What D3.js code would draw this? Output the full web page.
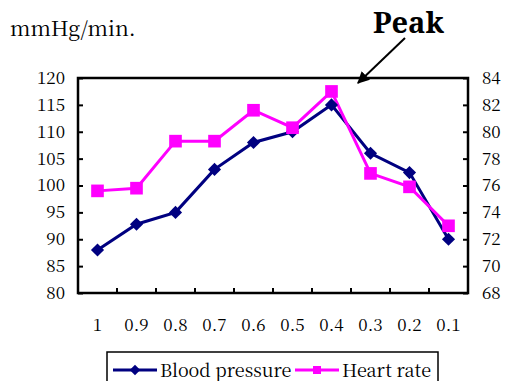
<!DOCTYPE html>
<html>
<head>
<meta charset="utf-8">
<script src="https://cdn.jsdelivr.net/npm/d3@7"></script>
<style>
  body { margin: 0; background: #fff; }
</style>
</head>
<body>
<svg id="chart" width="507" height="381"></svg>
<script>
// --- data ---
const categories = ["1", "0.9", "0.8", "0.7", "0.6", "0.5", "0.4", "0.3", "0.2", "0.1"];
const bloodPressure = [88, 92.8, 95, 103, 108, 110, 115, 106, 102.4, 90];
const heartRate = [75.6, 75.8, 79.3, 79.3, 81.6, 80.3, 83.0, 76.9, 75.9, 73.0];
const leftTicks = [80, 85, 90, 95, 100, 105, 110, 115, 120];
const rightTicks = [68, 70, 72, 74, 76, 78, 80, 82, 84];

const mincho = "'Noto Serif CJK JP', 'Liberation Serif', serif";

const svg = d3.select("#chart");
const plot = { left: 78, right: 468, top: 78, bottom: 293 };

const x = d3.scaleBand().domain(categories).range([plot.left, plot.right]);
const yL = d3.scaleLinear().domain([80, 120]).range([plot.bottom, plot.top]);
const yR = d3.scaleLinear().domain([68, 84]).range([plot.bottom, plot.top]);

// frame
svg.append("rect")
  .attr("x", plot.left).attr("y", plot.top)
  .attr("width", plot.right - plot.left).attr("height", plot.bottom - plot.top)
  .attr("fill", "none").attr("stroke", "#000").attr("stroke-width", 2.5);

// left axis (ticks pointing inward)
const gL = svg.append("g").attr("transform", `translate(${plot.left},0)`)
  .call(d3.axisRight(yL).tickValues(leftTicks).tickSize(5));
gL.select(".domain").remove();
gL.selectAll("line").attr("stroke-width", 2);
gL.selectAll("text").attr("text-anchor", "end").attr("x", -13)
  .style("font-family", mincho).style("font-size", "17px").attr("fill", "#000");

// right axis
const gR = svg.append("g").attr("transform", `translate(${plot.right},0)`)
  .call(d3.axisLeft(yR).tickValues(rightTicks).tickSize(5));
gR.select(".domain").remove();
gR.selectAll("line").attr("stroke-width", 2);
gR.selectAll("text").attr("text-anchor", "start").attr("x", 14)
  .style("font-family", mincho).style("font-size", "17px").attr("fill", "#000");

// bottom ticks at category boundaries
svg.append("g").selectAll("line")
  .data(categories.slice(1))
  .enter().append("line")
    .attr("x1", d => x(d)).attr("x2", d => x(d))
    .attr("y1", plot.bottom).attr("y2", plot.bottom - 5)
    .attr("stroke", "#000").attr("stroke-width", 2);

svg.append("g").selectAll("text")
  .data(categories)
  .enter().append("text")
    .attr("x", d => x(d) + x.bandwidth() / 2)
    .attr("y", 331)
    .attr("text-anchor", "middle")
    .style("font-family", mincho)
    .style("font-size", "17px")
    .text(d => d);

// lines
const lineBP = d3.line().x((d, i) => x(categories[i]) + x.bandwidth() / 2).y(d => yL(d));
const lineHR = d3.line().x((d, i) => x(categories[i]) + x.bandwidth() / 2).y(d => yR(d));

svg.append("path").datum(bloodPressure)
  .attr("d", lineBP).attr("fill", "none").attr("stroke", "#000080").attr("stroke-width", 3);
svg.append("path").datum(heartRate)
  .attr("d", lineHR).attr("fill", "none").attr("stroke", "#ff00ff").attr("stroke-width", 3);

const diamond = d3.symbol().type(d3.symbolDiamond2).size(110);
const square = d3.symbol().type(d3.symbolSquare).size(160);

svg.append("g").selectAll("path")
  .data(bloodPressure)
  .enter().append("path")
    .attr("transform", (d, i) => `translate(${x(categories[i]) + x.bandwidth() / 2},${yL(d)})`)
    .attr("d", diamond).attr("fill", "#000080");

svg.append("g").selectAll("path")
  .data(heartRate)
  .enter().append("path")
    .attr("transform", (d, i) => `translate(${x(categories[i]) + x.bandwidth() / 2},${yR(d)})`)
    .attr("d", square).attr("fill", "#ff00ff");

// unit label
svg.append("text")
  .attr("x", 10).attr("y", 36)
  .style("font-family", mincho)
  .style("font-size", "21px")
  .text("mmHg/min.");

// Peak annotation
svg.append("text")
  .attr("x", 373).attr("y", 33)
  .style("font-size", "29px").style("font-weight", "bold")
  .style("font-family", "'Noto Serif', 'DejaVu Serif', serif")
  .text("Peak");

svg.append("defs").append("marker")
  .attr("id", "arrow").attr("viewBox", "0 0 10 10")
  .attr("refX", 9).attr("refY", 5)
  .attr("markerWidth", 6).attr("markerHeight", 6)
  .attr("markerUnits", "strokeWidth")
  .attr("orient", "auto")
  .append("path").attr("d", "M0,0 L10,5 L0,10 Z").attr("fill", "#000");

svg.append("line")
  .attr("x1", 405).attr("y1", 38).attr("x2", 358).attr("y2", 83)
  .attr("stroke", "#000").attr("stroke-width", 2)
  .attr("marker-end", "url(#arrow)");

// legend
const lg = svg.append("g");
lg.append("rect")
  .attr("x", 107).attr("y", 352).attr("width", 331).attr("height", 40)
  .attr("fill", "#fff").attr("stroke", "#000").attr("stroke-width", 1.5);

const legendItems = [
  { name: "Blood pressure", color: "#000080", sym: d3.symbol().type(d3.symbolDiamond2).size(70), x0: 113 },
  { name: "Heart rate", color: "#ff00ff", sym: d3.symbol().type(d3.symbolSquare).size(64), x0: 295 }
];
legendItems.forEach(it => {
  lg.append("line")
    .attr("x1", it.x0).attr("x2", it.x0 + 44).attr("y1", 370).attr("y2", 370)
    .attr("stroke", it.color).attr("stroke-width", 3);
  lg.append("path")
    .attr("transform", `translate(${it.x0 + 22},370)`)
    .attr("d", it.sym)
    .attr("fill", it.color);
  lg.append("text")
    .attr("x", it.x0 + 47).attr("y", 377)
    .style("font-family", mincho)
    .style("font-size", "18px")
    .text(it.name);
});
</script>
</body>
</html>
